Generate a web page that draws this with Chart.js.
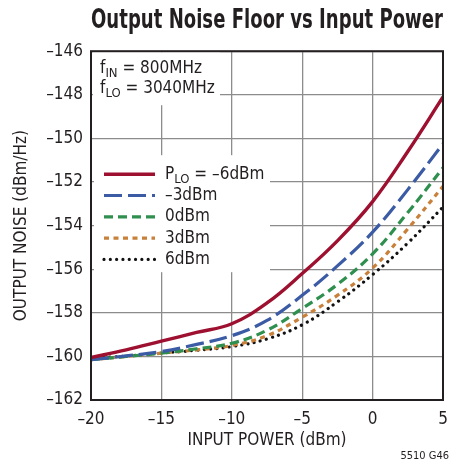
<!DOCTYPE html>
<html>
<head>
<meta charset="utf-8">
<script src="https://cdn.jsdelivr.net/npm/chart.js@4.4.1/dist/chart.umd.min.js"></script>
<style>
html,body{margin:0;padding:0;background:#fff;}
#wrap{width:452px;height:465px;position:relative;}
</style>
</head>
<body>
<div id="wrap"><canvas id="noiseChart"></canvas></div>
<script>
// input power sweep (dBm) and output noise floor (dBm/Hz) per LO drive
const inputPower=[-20,-17.5,-15,-12.5,-10,-7.5,-5,-2.5,0,2.5,5];
const noiseLoM6=[-160.05,-159.7,-159.3,-158.9,-158.5,-157.55,-156.2,-154.7,-152.9,-150.6,-148.1];
const noiseLoM3=[-160.15,-159.98,-159.78,-159.45,-159.05,-158.35,-157.2,-155.85,-154.3,-152.35,-150.25];
const noiseLo0=[-160.15,-160.0,-159.85,-159.65,-159.4,-158.8,-157.8,-156.7,-155.3,-153.4,-151.35];
const noiseLo3=[-160.15,-160.0,-159.85,-159.7,-159.5,-159.05,-158.2,-157.2,-155.95,-154.15,-152.2];
const noiseLo6=[-160.1,-159.98,-159.85,-159.72,-159.55,-159.2,-158.55,-157.5,-156.25,-154.8,-153.15];

const seriesLabels=["P{LO} = –6dBm","–3dBm","0dBm","3dBm","6dBm"];
const noteLines=["f{IN} = 800MHz","f{LO} = 3040MHz"];
const xTicks=[-20,-15,-10,-5,0,5];
const yTicks=[-146,-148,-150,-152,-154,-156,-158,-160,-162];

const FONT="'Liberation Sans Narrow','DejaVu Sans Condensed','Roboto Condensed',Roboto,sans-serif";
Chart.defaults.font.family=FONT;
Chart.defaults.color="#231f20";

const dash=s=>String(s).replace("-","–");
const plain=s=>s.replace(/[{}]/g,"");

// text with {subscript} parts
function richText(ctx,str,x,y,size){
  str.split(/(\{[^}]*\})/).forEach(p=>{
    if(!p)return;
    const sub=p[0]==="{";
    const t=sub?p.slice(1,-1):p;
    ctx.font=(sub?Math.round(size*0.78):size)+"px "+FONT;
    ctx.fillText(t,x,y+(sub?size*0.3:0));
    x+=ctx.measureText(t).width;
  });
}

const panels={
  id:"panels",
  beforeDatasetsDraw(chart){
    const {ctx,chartArea:a}=chart;
    ctx.save();
    ctx.fillStyle="#fff";
    ctx.fillRect(a.left+2,a.top+1,127,53);
    ctx.fillRect(a.left+3,a.top+104,176,117);
    ctx.restore();
  },
  afterDatasetsDraw(chart){
    const {ctx,chartArea:a}=chart;
    ctx.save();
    ctx.strokeStyle="#231f20";
    ctx.lineWidth=2;
    ctx.strokeRect(a.left,a.top,a.right-a.left,a.bottom-a.top);

    ctx.fillStyle="#231f20";
    ctx.textBaseline="middle";
    noteLines.forEach((s,i)=>richText(ctx,s,a.left+9,a.top+17+i*20,17));

    chart.data.datasets.forEach((ds,i)=>{
      const y=a.top+123+i*21.3;
      ctx.save();
      ctx.strokeStyle=ds.borderColor;
      ctx.lineWidth=ds.borderWidth;
      ctx.lineCap=ds.borderCapStyle||"butt";
      ctx.setLineDash(ds.borderDash||[]);
      ctx.beginPath();
      ctx.moveTo(a.left+13,y);
      ctx.lineTo(a.left+64,y);
      ctx.stroke();
      ctx.restore();
      richText(ctx,seriesLabels[i],a.left+74,y,17);
    });
    ctx.restore();
  },
  afterDraw(chart){
    const ctx=chart.ctx;
    ctx.save();
    ctx.fillStyle="#231f20";
    ctx.font="11px "+FONT;
    ctx.textAlign="right";
    ctx.textBaseline="middle";
    ctx.fillText("5510 G46",449,456);
    ctx.restore();
  }
};

function series(label,data,color,width,dashPattern,cap){
  return {label:plain(label),data:data.map((v,i)=>({x:inputPower[i],y:v})),
    borderColor:color,borderWidth:width,borderDash:dashPattern,
    borderCapStyle:cap||"butt",pointRadius:0,tension:0.4,fill:false};
}

new Chart(document.getElementById("noiseChart"),{
  type:"line",
  data:{
    datasets:[
      series(seriesLabels[0],noiseLoM6,"#9e1030",3.4,[]),
      series(seriesLabels[1],noiseLoM3,"#3b5ba5",3.2,[18,6]),
      series(seriesLabels[2],noiseLo0,"#2f8f4e",3.2,[9,5]),
      series(seriesLabels[3],noiseLo3,"#c8803a",3.2,[5,4.5]),
      series(seriesLabels[4],noiseLo6,"#111111",3.2,[0.01,6.3],"round")
    ]
  },
  options:{
    responsive:true,
    maintainAspectRatio:false,
    animation:false,
    layout:{padding:{top:0,right:9,bottom:0,left:0}},
    plugins:{
      legend:{display:false},
      tooltip:{enabled:false},
      title:{display:true,fullSize:false,text:"Output Noise Floor vs Input Power",
        color:"#231f20",font:{size:26,weight:"bold"},padding:{top:6,bottom:14}}
    },
    scales:{
      x:{type:"linear",min:-20,max:5,
        afterBuildTicks:s=>{s.ticks=xTicks.map(v=>({value:v}));},
        afterFit:s=>{s.height=65;s.paddingRight=0;s.paddingLeft=0;},
        grid:{color:"#8c8c8c",lineWidth:1.3,drawTicks:false},
        border:{display:false},
        ticks:{padding:9,font:{size:17},color:"#231f20",callback:dash},
        title:{display:true,text:"INPUT POWER (dBm)",font:{size:17},color:"#231f20",padding:{top:0,bottom:14}}
      },
      y:{min:-162,max:-146,
        afterBuildTicks:s=>{s.ticks=yTicks.map(v=>({value:v}));},
        afterFit:s=>{s.width=91;},
        grid:{color:"#8c8c8c",lineWidth:1.3,drawTicks:false},
        border:{display:false},
        ticks:{padding:8,font:{size:17},color:"#231f20",callback:dash},
        title:{display:true,text:"OUTPUT NOISE (dBm/Hz)",font:{size:17},color:"#231f20",padding:{top:11,bottom:0}}
      }
    }
  },
  plugins:[panels]
});
</script>
</body>
</html>
